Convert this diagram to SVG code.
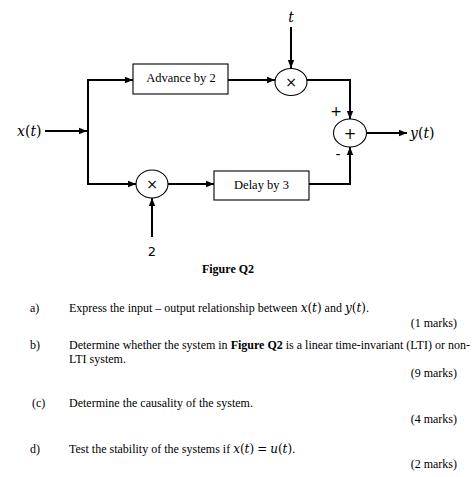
<svg xmlns="http://www.w3.org/2000/svg" width="474" height="477" viewBox="0 0 474 477">
<style>
.w{fill:none;stroke:#000;stroke-width:2}
.box{fill:#fff;stroke:#000;stroke-width:1.1}
.t{font-family:"Liberation Serif",serif;font-size:12px;fill:#000}
.b{font-family:"Liberation Serif",serif;font-size:12.5px;fill:#000}
.m{font-family:"DejaVu Serif",serif;font-size:14px;fill:#000}
.mi{font-family:"DejaVu Serif",serif;font-style:italic}
.s{font-family:"DejaVu Sans",sans-serif;fill:#000}
</style>
<defs>
<marker id="ah" viewBox="0 0 10 10" refX="10" refY="5" markerWidth="4" markerHeight="4" markerUnits="strokeWidth" orient="auto">
<path d="M0,1 L10,5 L0,9 Z" fill="#000"/>
</marker>
</defs>
<rect width="474" height="477" fill="#fff"/>
<g id="connectors">
<path class="w" d="M45,131 H87" marker-end="url(#ah)"/>
<path class="w" d="M88,80 V184"/>
<path class="w" d="M87,80 H133" marker-end="url(#ah)"/>
<path class="w" d="M87,184 H136" marker-end="url(#ah)"/>
<path class="w" d="M228,80 H275" marker-end="url(#ah)"/>
<path class="w" d="M291,27 V68" marker-end="url(#ah)"/>
<path class="w" d="M307,80 H350 V119" marker-end="url(#ah)"/>
<path class="w" d="M168,184 H214" marker-end="url(#ah)"/>
<path class="w" d="M152,237 V198" marker-end="url(#ah)"/>
<path class="w" d="M309,184 H350 V147" marker-end="url(#ah)"/>
<path class="w" d="M367,133 H407" marker-end="url(#ah)"/>
</g>
<g id="input"><text class="m" x="17" y="135.5"><tspan font-style="italic">x</tspan>(<tspan font-style="italic">t</tspan>)</text></g>
<g id="advance"><rect class="box" x="133" y="64" width="95" height="30"/><text class="b" x="181" y="81.5" text-anchor="middle">Advance by 2</text></g>
<g id="mult1"><ellipse class="box" cx="291" cy="82" rx="16" ry="13.5"/><text class="s" x="291" y="87" font-size="14" text-anchor="middle">×</text></g>
<g id="tlabel"><text class="m" x="291" y="22" font-style="italic" font-size="13" text-anchor="middle">t</text></g>
<g id="sum"><ellipse class="box" cx="350" cy="133" rx="16.5" ry="14"/><text class="s" x="350" y="138.5" font-size="15" text-anchor="middle">+</text>
<text class="s" x="336" y="116" font-size="14" text-anchor="middle">+</text>
<text class="s" x="338" y="159" font-size="14" text-anchor="middle">-</text></g>
<g id="output"><text class="m" x="410" y="137.5"><tspan font-style="italic">y</tspan>(<tspan font-style="italic">t</tspan>)</text></g>
<g id="mult2"><ellipse class="box" cx="152" cy="184" rx="16" ry="14"/><text class="s" x="152" y="189" font-size="14" text-anchor="middle">×</text></g>
<g id="delay"><rect class="box" x="214" y="171" width="95" height="29"/><text class="b" x="261.5" y="188.5" text-anchor="middle">Delay by 3</text></g>
<g id="two"><text class="s" x="152" y="256" font-size="13" text-anchor="middle">2</text></g>
<g id="questions">
<text class="t" x="228" y="273" font-weight="bold" text-anchor="middle">Figure Q2</text>
<text class="t" x="30" y="312">a)</text>
<text class="t" x="69" y="312">Express the input – output relationship between <tspan class="mi">x</tspan><tspan font-family="DejaVu Serif">(</tspan><tspan class="mi">t</tspan><tspan font-family="DejaVu Serif">)</tspan> and <tspan class="mi">y</tspan><tspan font-family="DejaVu Serif">(</tspan><tspan class="mi">t</tspan><tspan font-family="DejaVu Serif">)</tspan>.</text>
<text class="t" x="457" y="327" text-anchor="end">(1 marks)</text>
<text class="t" x="30" y="349">b)</text>
<text class="t" x="69" y="349" font-size="11.7">Determine whether the system in <tspan font-weight="bold">Figure Q2</tspan> is a linear time-invariant (LTI) or non-</text>
<text class="t" x="69" y="363">LTI system.</text>
<text class="t" x="457" y="377" text-anchor="end">(9 marks)</text>
<text class="t" x="32" y="407">(c)</text>
<text class="t" x="69" y="407">Determine the causality of the system.</text>
<text class="t" x="457" y="423" text-anchor="end">(4 marks)</text>
<text class="t" x="30" y="453">d)</text>
<text class="t" x="69" y="453">Test the stability of the systems if <tspan class="mi">x</tspan><tspan font-family="DejaVu Serif">(</tspan><tspan class="mi">t</tspan><tspan font-family="DejaVu Serif">)</tspan> <tspan font-family="DejaVu Serif">=</tspan> <tspan class="mi">u</tspan><tspan font-family="DejaVu Serif">(</tspan><tspan class="mi">t</tspan><tspan font-family="DejaVu Serif">)</tspan>.</text>
<text class="t" x="457" y="468" text-anchor="end">(2 marks)</text>
</g>
</svg>
